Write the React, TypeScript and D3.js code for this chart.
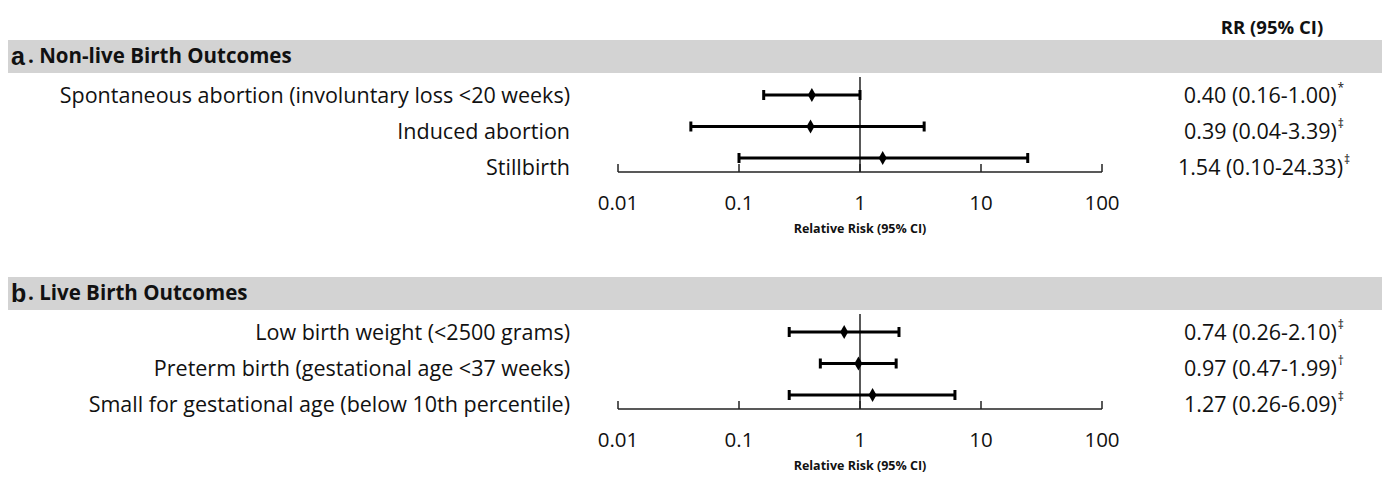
import * as d3 from 'd3';
import React from 'react';

// values
const panelLetters = ['a', 'b'];
const panelTitles = ['Non-live Birth Outcomes', 'Live Birth Outcomes'];

const outcomesA = [
  'Spontaneous abortion (involuntary loss <20 weeks)',
  'Induced abortion',
  'Stillbirth',
];
const rrA = [0.4, 0.39, 1.54];
const lowA = [0.16, 0.04, 0.1];
const highA = [1.0, 3.39, 24.33];
const notesA = ['*', '\u2021', '\u2021'];

const outcomesB = [
  'Low birth weight (<2500 grams)',
  'Preterm birth (gestational age <37 weeks)',
  'Small for gestational age (below 10th percentile)',
];
const rrB = [0.74, 0.97, 1.27];
const lowB = [0.26, 0.47, 0.26];
const highB = [2.1, 1.99, 6.09];
const notesB = ['\u2021', '\u2020', '\u2021'];

const tickValues = [0.01, 0.1, 1, 10, 100];
const tickLabels = ['0.01', '0.1', '1', '10', '100'];

const W = 1382;
const H = 478;
const font = '"Open Sans", Lato, sans-serif';

const x = d3.scaleLog().domain([0.01, 100]).range([618, 1102]);
const fmt = d3.format('.2f');

type Panel = {
  letter: string;
  title: string;
  names: string[];
  rr: number[];
  low: number[];
  high: number[];
  notes: string[];
  top: number;
};

const panels: Panel[] = [
  { letter: panelLetters[0], title: panelTitles[0], names: outcomesA, rr: rrA, low: lowA, high: highA, notes: notesA, top: 0 },
  { letter: panelLetters[1], title: panelTitles[1], names: outcomesB, rr: rrB, low: lowB, high: highB, notes: notesB, top: 237 },
];

// rows of the bars and rows of the text are spaced differently in the source
const barY = d3.scaleLinear().domain([0, 2]).range([95, 158]);
const textY = d3.scaleLinear().domain([0, 2]).range([95, 167]);

const diamond = d3.symbol().type(d3.symbolDiamond).size(55)();

function ForestPanel({ p }: { p: Panel }) {
  const axisY = 172;
  return (
    <g transform={`translate(0,${p.top})`}>
      <rect x={8} y={40} width={W - 8} height={33} fill="#d3d3d3" />
      <text x={11} y={65} fontFamily="Arial, 'Liberation Sans', sans-serif" fontWeight="bold" fontSize={25} fill="#111">
        {p.letter}
      </text>
      <text x={28} y={63} fontFamily={font} fontWeight="bold" fontSize={20.5} fill="#111">
        {'. ' + p.title}
      </text>

      {p.names.map((n, i) => (
        <text key={'n' + i} x={570} y={textY(i) + 7.5} textAnchor="end" fontFamily={font} fontSize={21.5} fill="#111">
          {n}
        </text>
      ))}

      {p.rr.map((v, i) => (
        <text key={'v' + i} x={1264} y={textY(i) + 7.5} textAnchor="middle" fontFamily={font} fontSize={21.5} fill="#111">
          {`${fmt(v)} (${fmt(p.low[i])}-${fmt(p.high[i])})`}
          <tspan dx={1} dy={-11} fontSize={12} fill="#111">{p.notes[i]}</tspan>
        </text>
      ))}

      {/* axis */}
      <line x1={x(0.01)} x2={x(100)} y1={axisY} y2={axisY} stroke="#222" strokeWidth={1.5} />
      {tickValues.map((t, i) => (
        <g key={'t' + i}>
          <line x1={x(t)} x2={x(t)} y1={axisY} y2={axisY - 8} stroke="#222" strokeWidth={1.5} />
          <text x={x(t)} y={axisY + 38} textAnchor="middle" fontFamily={font} fontSize={20.5} fill="#111">
            {tickLabels[i]}
          </text>
        </g>
      ))}
      <text x={x(1)} y={axisY + 61} textAnchor="middle" fontFamily={font} fontWeight="bold" fontSize={12.5} fill="#111">
        Relative Risk (95% CI)
      </text>
      <line x1={x(1)} x2={x(1)} y1={77} y2={axisY} stroke="#222" strokeWidth={1.5} />

      {p.rr.map((v, i) => {
        const y = barY(i);
        return (
          <g key={'b' + i}>
            <line x1={x(p.low[i])} x2={x(p.high[i])} y1={y} y2={y} stroke="#000" strokeWidth={3} />
            <line x1={x(p.low[i])} x2={x(p.low[i])} y1={y - 5} y2={y + 5} stroke="#000" strokeWidth={3} />
            <line x1={x(p.high[i])} x2={x(p.high[i])} y1={y - 5} y2={y + 5} stroke="#000" strokeWidth={3} />
            <path d={diamond ?? ''} transform={`translate(${x(v)},${y})`} fill="#000" />
          </g>
        );
      })}
    </g>
  );
}

export default function App() {
  return (
    <div style={{ position: 'absolute', left: 0, top: 0 }}>
      <svg width={W} height={H} style={{ display: 'block', background: '#fff' }}>
        <text x={1272} y={34} textAnchor="middle" fontFamily={font} fontWeight="bold" fontSize={18.5} fill="#111">
          RR (95% CI)
        </text>
        {panels.map((p, i) => (
          <ForestPanel key={i} p={p} />
        ))}
      </svg>
    </div>
  );
}
